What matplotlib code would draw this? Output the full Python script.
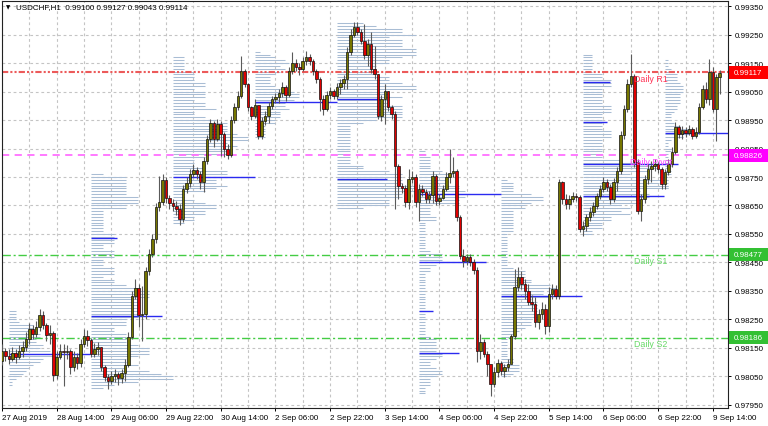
import matplotlib
matplotlib.use('Agg')
import matplotlib.pyplot as plt
import matplotlib.transforms as mtransforms
from matplotlib.patches import Rectangle
import numpy as np

plt.rcParams['font.family'] = ['Liberation Sans', 'DejaVu Sans']

# ---------------- data (prices in points, 1e-5) ----------------
title_text = "USDCHF,H1  0.99100 0.99127 0.99043 0.99114"
first_open = 98104
closes = [98139, 98122, 98111, 98132, 98118, 98139, 98154, 98182, 98217, 98199,
          98224, 98266, 98231, 98196, 98203, 98055, 98118, 98139, 98136, 98139,
          98083, 98118, 98097, 98164, 98192, 98178, 98129, 98147, 98154, 98083,
          98048, 98034, 98052, 98059, 98045, 98062, 98090, 98189, 98333, 98361,
          98266, 98269, 98420, 98480, 98533, 98645, 98662, 98740, 98676, 98659,
          98648, 98638, 98603, 98708, 98729, 98761, 98775, 98761, 98733, 98806,
          98884, 98940, 98884, 98936, 98901, 98849, 98827, 98950, 98996, 99035,
          99122, 99077, 98996, 98964, 99003, 98894, 98947, 98964, 98999, 99024,
          99031, 99045, 99066, 99038, 99122, 99150, 99136, 99129, 99157, 99171,
          99157, 99122, 99094, 99024, 98989, 99038, 99052, 99035, 99066, 99080,
          99094, 99189, 99249, 99277, 99259, 99228, 99178, 99217, 99129, 99112,
          98964, 99024, 99052, 98996, 98971, 98789, 98719, 98712, 98662, 98743,
          98750, 98662, 98708, 98698, 98673, 98687, 98754, 98666, 98676, 98708,
          98750, 98764, 98771, 98610, 98473, 98455, 98469, 98452, 98424, 98139,
          98171, 98129, 98094, 98024, 98066, 98097, 98069, 98083, 98094, 98192,
          98364, 98399, 98375, 98350, 98312, 98304, 98241, 98269, 98287, 98227,
          98340, 98357, 98333, 98733, 98673, 98655, 98673, 98684, 98680, 98568,
          98578, 98610, 98627, 98648, 98684, 98708, 98733, 98715, 98673, 98733,
          98771, 98898, 98989, 99077, 99105, 98803, 98631, 98673, 98743, 98778,
          98789, 98796, 98778, 98726, 98768, 98796, 98838, 98926, 98901, 98915,
          98905, 98919, 98894, 98908, 98996, 99059, 99024, 99119, 98989, 99100,
          99114]
highs = [98164, 98150, 98147, 98153, 98147, 98161, 98175, 98206, 98238, 98231,
         98245, 98287, 98280, 98238, 98231, 98210, 98139, 98164, 98164, 98161,
         98147, 98139, 98132, 98182, 98217, 98213, 98185, 98168, 98171, 98154,
         98090, 98059, 98069, 98076, 98066, 98076, 98111, 98206, 98350, 98392,
         98375, 98368, 98434, 98497, 98550, 98659, 98754, 98761, 98750, 98687,
         98673, 98666, 98655, 98722, 98750, 98778, 98796, 98785, 98771, 98820,
         98898, 98954, 98947, 98954, 98947, 98908, 98866, 98964, 99010, 99052,
         99175, 99129, 99080, 98999, 99024, 98996, 98961, 98982, 99013, 99035,
         99045, 99059, 99084, 99073, 99136, 99189, 99164, 99150, 99171, 99192,
         99182, 99164, 99129, 99101, 99038, 99052, 99066, 99059, 99080, 99094,
         99108, 99207, 99270, 99294, 99294, 99270, 99287, 99235, 99259, 99210,
         99112, 99038, 99077, 99042, 99003, 98982, 98796, 98729, 98722, 98778,
         98771, 98761, 98726, 98722, 98708, 98701, 98771, 98761, 98691, 98722,
         98768, 98849, 98820, 98778, 98617, 98497, 98480, 98480, 98462, 98434,
         98199, 98182, 98139, 98076, 98083, 98111, 98104, 98094, 98111, 98199,
         98427, 98434, 98420, 98392, 98375, 98336, 98329, 98287, 98311, 98304,
         98364, 98375, 98371, 98743, 98736, 98691, 98687, 98698, 98694, 98687,
         98596, 98620, 98645, 98662, 98694, 98722, 98750, 98743, 98726, 98747,
         98785, 98912, 99003, 99094, 99182, 99112, 98813, 98691, 98757, 98796,
         98806, 98813, 98803, 98785, 98778, 98813, 98856, 98943, 98933, 98929,
         98926, 98933, 98926, 98926, 99010, 99073, 99084, 99164, 99136, 99112,
         99127]
lows = [98090, 98104, 98094, 98104, 98097, 98111, 98118, 98139, 98164, 98182,
        98189, 98210, 98217, 98175, 98164, 98034, 98041, 98111, 98017, 98111,
        98059, 98069, 98076, 98083, 98154, 98157, 98118, 98118, 98125, 98069,
        98034, 98006, 98024, 98031, 98020, 98027, 98034, 98083, 98182, 98322,
        98224, 98175, 98252, 98406, 98469, 98519, 98631, 98652, 98659, 98638,
        98631, 98617, 98582, 98592, 98694, 98715, 98750, 98743, 98708, 98698,
        98796, 98873, 98856, 98877, 98824, 98820, 98813, 98820, 98940, 98985,
        99028, 99066, 98982, 98950, 98957, 98884, 98884, 98933, 98940, 98989,
        99010, 99010, 99031, 99017, 99031, 99112, 99122, 99108, 99122, 99143,
        99143, 99108, 99080, 98982, 98968, 98982, 99024, 99024, 99024, 99042,
        99059, 99059, 99178, 99242, 99249, 99217, 99164, 99140, 99115, 99094,
        98954, 98947, 98936, 98982, 98954, 98638, 98673, 98694, 98645, 98638,
        98729, 98645, 98596, 98684, 98659, 98659, 98659, 98652, 98652, 98673,
        98701, 98729, 98750, 98596, 98462, 98434, 98441, 98438, 98410, 98101,
        98111, 98118, 98052, 97982, 98013, 98048, 98055, 98048, 98069, 98104,
        98182, 98350, 98357, 98322, 98301, 98280, 98224, 98217, 98252, 98199,
        98206, 98322, 98322, 98322, 98655, 98638, 98638, 98662, 98666, 98557,
        98543, 98561, 98596, 98613, 98638, 98673, 98698, 98701, 98655, 98662,
        98701, 98761, 98884, 98978, 99066, 98785, 98620, 98596, 98659, 98726,
        98733, 98771, 98764, 98708, 98708, 98757, 98785, 98831, 98887, 98884,
        98891, 98898, 98884, 98887, 98901, 98989, 99010, 99003, 98978, 98877,
        99043]

time_tick_idx = [0, 16, 32, 48, 64, 80, 96, 112, 128, 144, 160, 176, 192, 208]
time_labels = ["27 Aug 2019", "28 Aug 14:00", "29 Aug 06:00", "29 Aug 22:00",
               "30 Aug 14:00", "2 Sep 06:00", "2 Sep 22:00", "3 Sep 14:00",
               "4 Sep 06:00", "4 Sep 22:00", "5 Sep 14:00", "6 Sep 06:00",
               "6 Sep 22:00", "9 Sep 14:00"]
price_ticks = [0.97950, 0.98050, 0.98150, 0.98250, 0.98350, 0.98450, 0.98550,
               0.98650, 0.98750, 0.98850, 0.98950, 0.99050, 0.99150, 0.99250, 0.99350]

# daily pivot levels
level_names = ["Daily R1", "Daily Pivot", "Daily S1", "Daily S2"]
level_values = [0.99117, 0.98826, 0.98477, 0.98186]

# daily profiles (start bar of each day, widest bar length in bars)
day_start = [2, 26, 50, 74, 98, 122, 146, 170, 194]
profile_len = [14, 24, 22, 13, 23, 15, 16, 25, 8]
# highlighted (blue) profile levels: day start bar, price, length in bars
blue_day = [2, 26, 26, 50, 74, 98, 98, 122, 122, 122, 122, 146, 170, 170, 170, 170, 194]
blue_price = [0.98129, 0.98262, 0.98536, 0.98750, 0.99013, 0.99024, 0.98743, 0.98691,
              0.98452, 0.98280, 0.98132, 0.98333, 0.99084, 0.98943, 0.98796, 0.98684, 0.98905]
blue_len = [23.7, 20.8, 7.6, 24, 24, 12.6, 14.6, 24, 19.6, 4, 11.7, 23.7, 7.9, 7, 27.8, 23.7, 18.7]

# ---------------- prepare ----------------
c = np.array(closes) / 1e5
h = np.array(highs) / 1e5
l = np.array(lows) / 1e5
o = np.concatenate([[first_open / 1e5], c[:-1]])
n = len(c)
x = np.arange(n)

W, H = 768, 427
fig = plt.figure(figsize=(W / 100, H / 100), dpi=100)
fig.patch.set_facecolor('white')
ax = fig.add_axes([2 / W, (H - 409) / H, 726 / W, 407 / H])
ax.set_facecolor('white')
ax.set_xlim(0.146, 212.43)
ax.set_ylim(0.97939, 0.99368)

# grid
grid_kw = dict(color='#c4c4c4', lw=0.8, linestyle=(0, (2.5, 2.5)), zorder=0.5)
for p in price_ticks:
    ax.axhline(p, **grid_kw)
for gx in range(0, 212, 8):
    ax.axvline(gx, **grid_kw)

# profiles
for d, mlen in zip(day_start, profile_len):
    idx = np.arange(d, min(d + 24, n))
    lo = np.floor(l[idx].min() * 1e4) / 1e4
    hi = h[idx].max()
    levels = np.arange(lo, hi + 1e-9, 0.0001)
    counts = np.array([np.sum((l[idx] <= lv) & (h[idx] >= lv)) for lv in levels])
    lens = counts / counts.max() * mlen
    ax.hlines(levels, d, d + lens, color='#a9bdd4', lw=0.75, zorder=1)

for d, p, ln in zip(blue_day, blue_price, blue_len):
    ax.hlines(p, d, d + ln, color='#2a2af0', lw=1.0, zorder=2.5)

# pivot lines
styles = [
    dict(color='#ec5a5a', lw=1.5, linestyle=(0, (3, 1, 1, 1, 1, 1))),
    dict(color='#ff70ff', lw=1.3, linestyle=(0, (4, 3))),
    dict(color='#44cc44', lw=1.0, linestyle=(0, (6, 2, 1.5, 2))),
    dict(color='#44cc44', lw=1.0, linestyle=(0, (6, 2, 1.5, 2))),
]
text_colors = ['#ff3355', '#ff44ff', '#66d966', '#66d966']
box_colors = ['#ff0000', '#ff00ff', '#33c033', '#33c033']
for name, val, st, tc in zip(level_names, level_values, styles, text_colors):
    ax.axhline(val, zorder=2, **st)
    ax.text(189.8, val - 0.00005, name, color=tc, fontsize=6.4,
            ha='center', va='top', zorder=5)

# candles
up = c >= o
ax.vlines(x, l, h, color='#5a5a5a', lw=0.8, zorder=3)
bb = np.minimum(o, c)
bh = np.maximum(np.abs(c - o), 0.000012)
ax.bar(x[up], bh[up], bottom=bb[up], width=0.74, color='#767600',
       edgecolor='#111111', linewidth=0.5, zorder=4)
ax.bar(x[~up], bh[~up], bottom=bb[~up], width=0.74, color='#e00000',
       edgecolor='#111111', linewidth=0.5, zorder=4)

# axes styling
for sp in ax.spines.values():
    sp.set_color('#222222')
    sp.set_linewidth(0.8)
ax.yaxis.tick_right()
ax.set_yticks(price_ticks)
ax.set_yticklabels([f"{p:.5f}" for p in price_ticks])
ax.set_xticks(time_tick_idx)
ax.set_xticklabels(time_labels)
ax.tick_params(axis='y', length=2.5, width=0.7, pad=2.5, labelsize=5.8, colors='black')
ax.tick_params(axis='x', length=2.5, width=0.7, pad=2.0, labelsize=5.8, colors='black')
for lab in ax.get_xticklabels():
    lab.set_ha('left')

# price boxes on the right axis
blend = mtransforms.blended_transform_factory(ax.transAxes, ax.transData)
half = 0.000228
for val, bc in zip(level_values, box_colors):
    ax.add_patch(Rectangle((1.0014, val - half), 0.054, 2 * half, transform=blend,
                           facecolor=bc, edgecolor='none', clip_on=False, zorder=10))
    ax.text(1.0085, val, f"{val:.5f}", transform=blend, color='white', fontsize=5.8,
            ha='left', va='center', clip_on=False, zorder=11)

# title
fig.text(6 / W, 1 - 8 / H, '\u25BC', fontsize=4, family='DejaVu Sans', va='center', ha='left')
fig.text(16 / W, 1 - 8 / H, title_text, fontsize=5.8, va='center', ha='left')

fig.savefig('out.png', dpi=100, facecolor='white')
